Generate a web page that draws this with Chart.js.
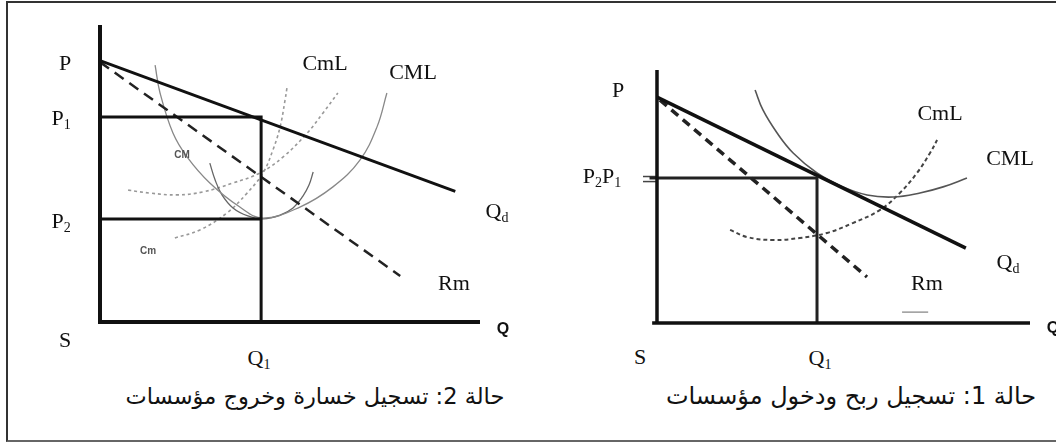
<!DOCTYPE html>
<html>
<head>
<meta charset="utf-8">
<script src="https://cdn.jsdelivr.net/npm/chart.js@4.4.1/dist/chart.umd.min.js"></script>
<style>
  html, body { margin: 0; padding: 0; background: #fff; }
  body { width: 1056px; height: 446px; position: relative; overflow: hidden; }
  .frame { position: absolute; left: 6px; top: 1px; width: 1060px; height: 441px;
           border: 2px solid #333; border-bottom-color: #666; box-sizing: border-box; }
  .panel { position: absolute; }
  .lbl { position: absolute; transform: translate(-50%, -50%); white-space: nowrap;
         font-family: "Liberation Serif", "Times New Roman", serif; font-size: 22px; color: #111; line-height: 1; }
  .lbl sub { font-size: 14px; vertical-align: -4px; }
  .axisq { font-family: "Liberation Sans", Arial, sans-serif; font-weight: bold; font-size: 16px; }
  .small { font-family: "Liberation Sans", Arial, sans-serif; font-weight: bold; font-size: 10px; color: #555; }
  .title { font-family: "DejaVu Sans", "Liberation Sans", sans-serif; font-size: 24px; direction: rtl; }
</style>
</head>
<body>
<div class="frame"></div>
<div class="panel" style="left:40px;top:15px;width:480px;height:320px"><canvas id="leftChart"></canvas></div>
<div class="panel" style="left:600px;top:60px;width:456px;height:275px"><canvas id="rightChart"></canvas></div>

<!-- left panel labels -->
<div class="lbl" style="left:65px;top:63px">P</div>
<div class="lbl" style="left:61px;top:119px">P<sub>1</sub></div>
<div class="lbl" style="left:61px;top:222px">P<sub>2</sub></div>
<div class="lbl" style="left:65px;top:340px">S</div>
<div class="lbl" style="left:259px;top:359px">Q<sub>1</sub></div>
<div class="lbl" style="left:325px;top:63px">CmL</div>
<div class="lbl" style="left:413px;top:72px">CML</div>
<div class="lbl" style="left:497px;top:212px">Q<sub>d</sub></div>
<div class="lbl" style="left:454px;top:283px">Rm</div>
<div class="lbl axisq" style="left:503px;top:329px">Q</div>
<div class="lbl small" style="left:182px;top:155px">CM</div>
<div class="lbl small" style="left:148px;top:251px">Cm</div>
<div class="lbl title" style="left:315px;top:396px;font-size:22.5px">حالة 2: تسجيل خسارة وخروج مؤسسات</div>

<!-- right panel labels -->
<div class="lbl" style="left:618px;top:90px">P</div>
<div class="lbl" style="left:602px;top:177px">P<sub>2</sub>P<sub>1</sub></div>
<div class="lbl" style="left:940px;top:113px">CmL</div>
<div class="lbl" style="left:1010px;top:158px">CML</div>
<div class="lbl" style="left:1008px;top:263px">Q<sub>d</sub></div>
<div class="lbl" style="left:927px;top:283px">Rm</div>
<div class="lbl" style="left:640px;top:357px">S</div>
<div class="lbl" style="left:820px;top:359px">Q<sub>1</sub></div>
<div class="lbl axisq" style="left:1053px;top:328px">Q</div>
<div class="lbl title" style="left:851px;top:396px">حالة 1: تسجيل ربح ودخول مؤسسات</div>

<script>
// ---- left panel (case 2: loss) ----
const leftAxisQ = [0, 0, 10];
const leftAxisP = [10, 0, 0];
const leftDemandQ = [0, 9.35];
const leftDemandP = [8.8, 4.4];
const leftRmQ = [0, 7.9];
const leftRmP = [8.75, 1.55];
const leftP1 = 6.9;
const leftP2 = 3.47;
const leftQ1 = 4.24;
const leftCmlQ = [1.45, 1.58, 1.92, 2.29, 2.89, 3.68, 4.29, 5.26, 6.13, 6.84, 7.29, 7.55];
const leftCmlP = [8.65, 7.71, 6.36, 5.56, 4.68, 3.87, 3.5, 3.87, 4.55, 5.45, 6.57, 7.71];
const leftCmQ = [2.89, 3.03, 3.21, 3.5, 3.89, 4.29, 4.74, 5.08, 5.34, 5.5, 5.61];
const leftCmP = [5.35, 4.78, 4.28, 3.84, 3.57, 3.47, 3.6, 3.84, 4.24, 4.61, 5.05];
const leftSmcQ = [1.97, 2.63, 3.34, 3.87, 4.29, 4.55, 4.74, 4.87, 4.92];
const leftSmcP = [2.83, 3.1, 3.67, 4.34, 5.02, 5.79, 6.57, 7.47, 7.88];
const leftLmcQ = [0.74, 1.32, 2.03, 2.71, 3.5, 4.21, 4.82, 5.45, 5.87, 6.26];
const leftLmcP = [4.44, 4.34, 4.28, 4.38, 4.68, 5.02, 5.56, 6.36, 7.04, 7.71];

// ---- right panel (case 1: profit) ----
const rightAxisYQ = [0, 0];
const rightAxisYP = [10, 0];
const rightAxisXQ = [-0.13, 10];
const rightAxisXP = [0, 0];
const rightDemandQ = [0, 8.28];
const rightDemandP = [8.93, 2.96];
const rightRmQ = [0.08, 5.63];
const rightRmP = [8.81, 1.82];
const rightP1 = 5.73;
const rightQ1 = 4.29;
const rightTickP = [5.79, 5.59];
const rightCmlQ = [2.63, 2.84, 3.22, 3.65, 4.29, 4.99, 5.63, 6.33, 7.05, 7.67, 8.31];
const rightCmlP = [9.21, 8.42, 7.51, 6.72, 5.93, 5.38, 5.06, 4.98, 5.14, 5.38, 5.73];
const rightLmcQ = [1.96, 2.41, 3.11, 3.83, 4.56, 5.25, 5.98, 6.51, 6.97, 7.32, 7.51];
const rightLmcP = [3.68, 3.4, 3.28, 3.36, 3.56, 3.95, 4.47, 5.14, 5.93, 6.72, 7.23];
const rightMarkQ = [6.57, 7.27];
const rightMarkP = [0.43, 0.43];

function pts(q, p) {
  return q.map((x, i) => ({ x: x, y: p[i] }));
}

function line(data, color, width, dash, tension) {
  return {
    data: data,
    showLine: true,
    borderColor: color,
    borderWidth: width,
    borderDash: dash || [],
    pointRadius: 0,
    tension: tension || 0,
    fill: false,
  };
}

function makePanel(id, datasets, xMin, xMax, yMin, yMax) {
  const ctx = document.getElementById(id).getContext('2d');
  return new Chart(ctx, {
    type: 'scatter',
    data: { datasets: datasets },
    options: {
      responsive: true,
      maintainAspectRatio: false,
      animation: false,
      layout: { padding: 0 },
      scales: {
        x: { type: 'linear', display: false, min: xMin, max: xMax },
        y: { type: 'linear', display: false, min: yMin, max: yMax },
      },
      plugins: { legend: { display: false }, tooltip: { enabled: false } },
    },
  });
}

makePanel('leftChart', [
  line(pts(leftAxisQ, leftAxisP), '#111', 4),
  line(pts([0, leftQ1, leftQ1], [leftP1, leftP1, 0]), '#111', 3),
  line(pts([0, leftQ1], [leftP2, leftP2]), '#111', 3),
  line(pts(leftDemandQ, leftDemandP), '#111', 2.8),
  line(pts(leftRmQ, leftRmP), '#222', 2.5, [11, 7]),
  line(pts(leftCmlQ, leftCmlP), '#888', 1.3, null, 0.4),
  line(pts(leftCmQ, leftCmP), '#666', 1.3, null, 0.4),
  line(pts(leftSmcQ, leftSmcP), '#999', 1.6, [3, 3], 0.4),
  line(pts(leftLmcQ, leftLmcP), '#999', 1.6, [3, 3], 0.4),
], -1.579, 11.053, -0.438, 10.337);

makePanel('rightChart', [
  line(pts(rightAxisYQ, rightAxisYP), '#111', 3.5),
  line(pts(rightAxisXQ, rightAxisXP), '#111', 3.5),
  line(pts([-0.2, rightQ1, rightQ1], [rightP1, rightP1, 0]), '#222', 3),
  line(pts([-0.375, 0], [rightTickP[0], rightTickP[0]]), '#444', 1.5),
  line(pts([-0.375, 0], [rightTickP[1], rightTickP[1]]), '#444', 1.5),
  line(pts(rightDemandQ, rightDemandP), '#111', 3.5),
  line(pts(rightRmQ, rightRmP), '#222', 3.5, [9, 6]),
  line(pts(rightCmlQ, rightCmlP), '#555', 1.6, null, 0.4),
  line(pts(rightLmcQ, rightLmcP), '#444', 2, [4, 3], 0.4),
  line(pts(rightMarkQ, rightMarkP), '#999', 1.5),
], -1.528, 10.697, -0.474, 10.395);
</script>
</body>
</html>
